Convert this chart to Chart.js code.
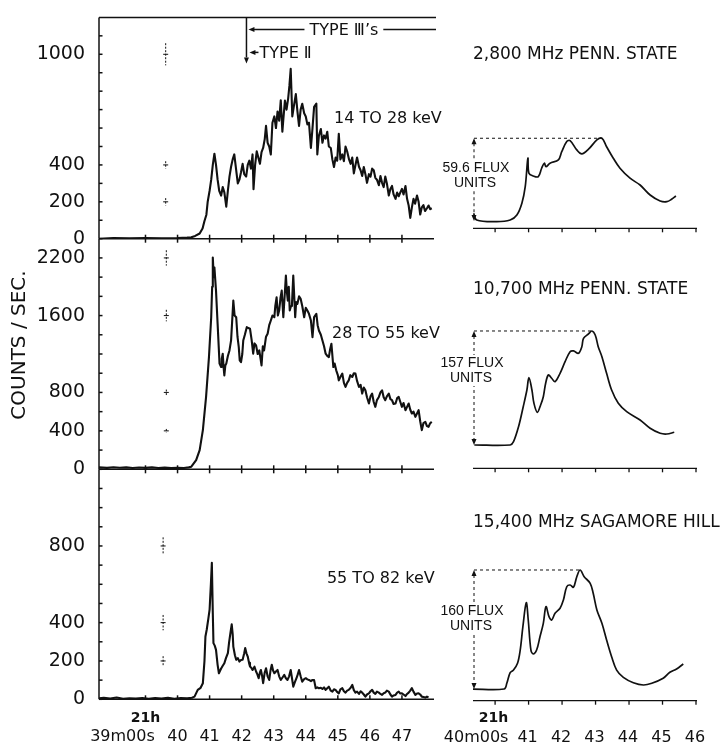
<!DOCTYPE html>
<html>
<head>
<meta charset="utf-8">
<script src="https://cdn.jsdelivr.net/npm/chart.js@4.4.0/dist/chart.umd.min.js"></script>
<style>
html, body { margin: 0; padding: 0; background: #fff; }
#wrap { position: relative; width: 726px; height: 746px; overflow: hidden; }
#wrap canvas { position: absolute; left: 0; top: 0; }
</style>
</head>
<body>
<div id="wrap">
  <canvas id="p1" width="726" height="746"></canvas>
  <canvas id="p2" width="726" height="746"></canvas>
  <canvas id="p3" width="726" height="746"></canvas>
  <canvas id="r1" width="726" height="746"></canvas>
  <canvas id="r2" width="726" height="746"></canvas>
  <canvas id="r3" width="726" height="746"></canvas>
</div>
<script>
// ---- data (time in minutes after 21h) ----
const leftMinutes = [39, 40, 41, 42, 43, 44, 45, 46, 47];
const leftMinuteLabels = ['39m00s', '40', '41', '42', '43', '44', '45', '46', '47'];
const rightMinutes = [40, 41, 42, 43, 44, 45, 46];
const rightMinuteLabels = ['40m00s', '41', '42', '43', '44', '45', '46'];
const hourLabel = '21h';

// 14 to 28 keV
const xr1Time = [37.55, 38.0, 38.5, 39.0, 39.5, 40.0, 40.3, 40.43, 40.55, 40.69, 40.78, 40.84, 40.9, 40.94, 41.0, 41.05, 41.1, 41.15, 41.2, 41.25,
  41.3, 41.36, 41.41, 41.46, 41.52, 41.57, 41.62, 41.67, 41.72, 41.77, 41.83, 41.88, 41.93, 41.98, 42.03, 42.08, 42.14, 42.19, 42.24, 42.29,
  42.34, 42.37, 42.42, 42.47, 42.52, 42.57, 42.62, 42.67, 42.72, 42.76, 42.81, 42.86, 42.91, 42.96, 43.02, 43.07, 43.12, 43.17, 43.22, 43.27,
  43.3, 43.35, 43.4, 43.45, 43.49, 43.53, 43.58, 43.63, 43.69, 43.74, 43.79, 43.84, 43.89, 43.95, 44.0, 44.05, 44.1, 44.16, 44.21, 44.26,
  44.33, 44.36, 44.41, 44.47, 44.52, 44.57, 44.62, 44.67, 44.72, 44.78, 44.83, 44.88, 44.93, 44.98, 45.03, 45.08, 45.14, 45.19, 45.24, 45.29,
  45.35, 45.4, 45.45, 45.5, 45.55, 45.6, 45.66, 45.71, 45.76, 45.81, 45.86, 45.91, 45.97, 46.02, 46.07, 46.12, 46.17, 46.22, 46.28, 46.33,
  46.38, 46.43, 46.48, 46.53, 46.59, 46.64, 46.69, 46.74, 46.8, 46.85, 46.9, 46.95, 47.0, 47.05, 47.11, 47.16, 47.21, 47.26, 47.31, 47.36,
  47.41, 47.47, 47.52, 47.57, 47.62, 47.67, 47.72, 47.78, 47.83, 47.88, 47.93];
const xr1Counts = [0, 3, 2, 4, 2, 3, 6, 8, 15, 28, 55, 96, 130, 200, 260, 320, 400, 461, 400, 320,
  260, 234, 280, 251, 174, 260, 337, 390, 430, 457, 371, 300, 320, 360, 406, 350, 337, 400, 423, 380,
  457, 268, 400, 474, 440, 406, 470, 492, 540, 612, 520, 500, 457, 629, 663, 600, 690, 640, 750, 580,
  647, 749, 700, 760, 830, 921, 663, 720, 784, 690, 612, 700, 732, 680, 663, 620, 629, 492, 600, 715,
  732, 457, 560, 595, 520, 560, 543, 580, 500, 492, 430, 389, 440, 423, 569, 430, 457, 420, 500, 474,
  430, 406, 440, 354, 400, 440, 390, 371, 340, 389, 350, 303, 350, 337, 380, 371, 330, 320, 290, 340,
  303, 280, 337, 300, 234, 270, 286, 240, 216, 250, 230, 251, 270, 240, 286, 216, 180, 113, 170, 216,
  190, 234, 200, 131, 170, 182, 150, 165, 180, 160, 165];

// 28 to 55 keV
const xr2Time = [37.55, 37.8, 38.0, 38.2, 38.4, 38.6, 38.8, 39.0, 39.2, 39.4, 39.6, 39.8, 40.0, 40.2, 40.35, 40.43, 40.58, 40.69, 40.79, 40.89,
  40.98, 41.05, 41.08, 41.1, 41.13, 41.15, 41.2, 41.25, 41.31, 41.36, 41.38, 41.41, 41.44, 41.46, 41.49, 41.52, 41.57, 41.62, 41.67, 41.74,
  41.78, 41.83, 41.87, 41.91, 41.94, 41.98, 42.02, 42.05, 42.1, 42.16, 42.21, 42.26, 42.31, 42.36, 42.4, 42.45, 42.5, 42.55, 42.59, 42.62,
  42.66, 42.7, 42.76, 42.81, 42.86, 42.91, 42.96, 43.02, 43.05, 43.09, 43.13, 43.17, 43.21, 43.25, 43.3, 43.34, 43.38, 43.41, 43.44, 43.47,
  43.5, 43.54, 43.57, 43.61, 43.64, 43.67, 43.7, 43.74, 43.79, 43.84, 43.89, 43.95, 44.0, 44.05, 44.1, 44.16, 44.21, 44.26, 44.33, 44.37,
  44.41, 44.47, 44.52, 44.57, 44.62, 44.67, 44.72, 44.76, 44.8, 44.86, 44.9, 44.95, 45.0, 45.03, 45.08, 45.14, 45.19, 45.24, 45.29, 45.34,
  45.39, 45.45, 45.5, 45.55, 45.6, 45.66, 45.71, 45.76, 45.81, 45.86, 45.91, 45.97, 46.02, 46.07, 46.12, 46.17, 46.22, 46.28, 46.33, 46.38,
  46.43, 46.48, 46.53, 46.59, 46.64, 46.69, 46.74, 46.8, 46.85, 46.9, 46.95, 47.0, 47.05, 47.11, 47.16, 47.21, 47.26, 47.31, 47.36, 47.42,
  47.47, 47.52, 47.57, 47.62, 47.67, 47.73, 47.78, 47.83, 47.88, 47.93];
const xr2Counts = [20, 15, 22, 16, 20, 14, 18, 15, 20, 13, 17, 12, 16, 14, 20, 27, 96, 200, 408, 753,
  1168, 1583, 1900, 2205, 2000, 2101, 1860, 1514, 1100, 1064, 1150, 1203, 1050, 978, 1080, 1100, 1180, 1237, 1341, 1756,
  1600, 1583, 1380, 1272, 1134, 1116, 1200, 1341, 1400, 1479, 1470, 1463, 1350, 1203, 1310, 1290, 1200, 1237, 1150, 1082,
  1280, 1237, 1380, 1411, 1500, 1549, 1600, 1583, 1700, 1790, 1600, 1652, 1780, 1860, 1583, 1800, 2016, 1850, 1756, 1900,
  1652, 1700, 1720, 2016, 1800, 1583, 1740, 1722, 1800, 1774, 1700, 1583, 1680, 1652, 1618, 1549, 1376, 1583, 1618, 1500,
  1445, 1400, 1341, 1280, 1203, 1180, 1168, 1250, 1307, 1064, 1100, 1030, 980, 926, 960, 996, 900, 857, 900, 926,
  980, 961, 1000, 996, 920, 857, 880, 788, 850, 822, 750, 685, 760, 788, 700, 650, 720, 753, 800, 822,
  750, 719, 760, 788, 730, 719, 680, 685, 740, 753, 700, 650, 690, 615, 650, 685, 620, 581, 600, 546,
  580, 615, 500, 408, 480, 494, 450, 442, 480, 494];

// 55 to 82 keV
const xr3Time = [37.55, 37.7, 37.9, 38.1, 38.3, 38.5, 38.7, 38.9, 39.1, 39.3, 39.5, 39.7, 39.9, 40.1, 40.3, 40.45, 40.53, 40.63, 40.72, 40.79,
  40.84, 40.87, 40.91, 40.96, 41.0, 41.04, 41.07, 41.1, 41.12, 41.16, 41.2, 41.25, 41.29, 41.33, 41.36, 41.41, 41.46, 41.51, 41.57, 41.61,
  41.65, 41.69, 41.72, 41.74, 41.79, 41.83, 41.88, 41.93, 41.98, 42.03, 42.08, 42.11, 42.15, 42.19, 42.23, 42.26, 42.3, 42.34, 42.4, 42.45,
  42.49, 42.53, 42.57, 42.6, 42.64, 42.67, 42.72, 42.76, 42.81, 42.86, 42.9, 42.94, 42.98, 43.02, 43.07, 43.12, 43.17, 43.22, 43.28, 43.33,
  43.38, 43.43, 43.48, 43.53, 43.57, 43.61, 43.66, 43.71, 43.75, 43.79, 43.84, 43.89, 43.95, 44.0, 44.05, 44.1, 44.16, 44.21, 44.26, 44.31,
  44.36, 44.41, 44.47, 44.52, 44.57, 44.62, 44.67, 44.72, 44.78, 44.83, 44.88, 44.93, 44.98, 45.03, 45.08, 45.14, 45.19, 45.24, 45.29, 45.34,
  45.4, 45.45, 45.5, 45.55, 45.6, 45.66, 45.71, 45.76, 45.81, 45.86, 45.91, 45.97, 46.02, 46.07, 46.12, 46.17, 46.22, 46.28, 46.33, 46.38,
  46.43, 46.48, 46.53, 46.59, 46.64, 46.69, 46.74, 46.8, 46.85, 46.9, 46.95, 47.0, 47.05, 47.11, 47.16, 47.21, 47.26, 47.31, 47.36, 47.42,
  47.47, 47.52, 47.57, 47.62, 47.67, 47.73, 47.78, 47.83];
const xr3Counts = [5, 8, 4, 9, 3, 5, 4, 7, 3, 6, 4, 8, 3, 6, 5, 8, 14, 49, 60, 84,
  200, 328, 363, 420, 468, 600, 712, 450, 293, 280, 258, 180, 136, 150, 161, 175, 188, 215, 241, 300,
  346, 391, 340, 275, 230, 206, 215, 197, 205, 206, 240, 267, 240, 223, 190, 171, 165, 153, 170, 145,
  130, 110, 140, 153, 120, 84, 140, 162, 120, 101, 150, 180, 150, 136, 145, 153, 120, 101, 115, 127,
  110, 101, 120, 153, 110, 66, 90, 110, 130, 153, 120, 92, 105, 110, 104, 101, 95, 101, 100, 58,
  62, 58, 60, 54, 62, 49, 58, 66, 45, 40, 52, 49, 38, 31, 52, 58, 42, 35, 45, 49,
  60, 75, 48, 35, 40, 28, 42, 35, 25, 14, 25, 31, 42, 49, 35, 28, 40, 35, 28, 23,
  32, 35, 45, 40, 25, 14, 20, 23, 35, 40, 30, 31, 25, 17, 28, 35, 45, 58, 40, 23,
  30, 31, 25, 14, 12, 9, 14, 10];

// calibration points with error bars
const cal1Time = 39.63, cal1Counts = [1000, 400, 200], cal1Err = [60, 20, 20];
const cal2Time = 39.65, cal2Counts = [2200, 1600, 800, 400], cal2Err = [80, 60, 30, 20];
const cal3Time = 39.55, cal3Counts = [800, 400, 200], cal3Err = [45, 40, 25];

const xr1YLabels = [0, 200, 400, 1000];
const xr2YLabels = [0, 400, 800, 1600, 2200];
const xr3YLabels = [0, 200, 400, 800];

// radio, flux units above pre-flare level
const rad1Time = [39.36, 39.45, 40.05, 40.45, 40.65, 40.8, 40.9, 40.98, 41.01, 41.14, 41.29, 41.39, 41.47, 41.52, 41.64, 41.89, 41.99, 42.14, 42.24, 42.44,
  42.59, 42.79, 43.04, 43.19, 43.33, 43.53, 43.73, 44.03, 44.33, 44.63, 44.93, 45.13, 45.27, 45.4];
const rad1Flux = [5.5, 0.7, -0.5, 0.7, 4.3, 12.8, 24.7, 45.2, 34.4, 32.4, 31.9, 38.0, 41.6, 39.1, 41.6, 44.0, 49.9, 57.2, 57.9, 51.2,
  48.3, 51.7, 58.4, 59.6, 53.5, 45.2, 38.0, 30.8, 25.9, 18.7, 14.4, 13.9, 15.6, 18.0];
const rad2Time = [39.38, 40.45, 40.55, 40.7, 40.84, 40.95, 41.01, 41.1, 41.16, 41.26, 41.36, 41.44, 41.51, 41.59, 41.69, 41.79, 41.94, 42.09, 42.24, 42.34,
  42.49, 42.59, 42.64, 42.79, 42.89, 42.99, 43.08, 43.19, 43.33, 43.48, 43.68, 43.93, 44.33, 44.63, 44.93, 45.13, 45.35];
const rad2Flux = [0, 0, 4.5, 25.2, 52.7, 75.7, 92.7, 75.7, 57.4, 45.0, 55.1, 66.5, 85.0, 96.4, 91.9, 87.2, 98.7, 114.7, 128.5, 129.5,
  126.3, 135.4, 146.9, 152.9, 157, 151.5, 135.4, 121.6, 98.7, 75.7, 57.4, 45.9, 34.4, 23.0, 16.1, 15.1, 17.5];
const rad3Time = [39.3, 40.27, 40.35, 40.45, 40.55, 40.67, 40.75, 40.83, 40.93, 40.99, 41.07, 41.14, 41.24, 41.34, 41.44, 41.52, 41.61, 41.69, 41.79, 41.94,
  42.04, 42.14, 42.24, 42.34, 42.44, 42.54, 42.66, 42.84, 42.93, 43.04, 43.19, 43.33, 43.48, 43.63, 43.83, 44.13, 44.43, 44.68, 45.02, 45.22,
  45.42, 45.62];
const rad3Flux = [0, 0, 7.7, 21.9, 25.5, 34.6, 52.4, 83.8, 116.0, 92.8, 52.4, 47.1, 52.4, 70.3, 88.3, 110.7, 97.2, 92.8, 101.8, 108.5,
  119.7, 137.5, 139.8, 136.7, 151.0, 160, 151.0, 142.1, 128.7, 106.2, 88.3, 65.9, 43.4, 25.5, 15.7, 8.5, 5.4, 7.7, 14.4, 22.5,
  26.9, 33.6];

const FONT = '"DejaVu Sans", sans-serif';
const INK = '#111';
Chart.defaults.font.family = FONT;
Chart.defaults.color = INK;

function seg(ctx, x1, y1, x2, y2) {
  ctx.beginPath(); ctx.moveTo(x1, y1); ctx.lineTo(x2, y2); ctx.stroke();
}
function head(ctx, x, y, dx, dy) {
  // little filled arrowhead with its tip at x,y pointing along dx,dy
  const px = -dy, py = dx;
  ctx.beginPath();
  ctx.moveTo(x, y);
  ctx.lineTo(x - dx * 6 + px * 2.5, y - dy * 6 + py * 2.5);
  ctx.lineTo(x - dx * 6 - px * 2.5, y - dy * 6 - py * 2.5);
  ctx.closePath(); ctx.fill();
}
function text(ctx, s, x, y, font, align) {
  ctx.font = font; ctx.textAlign = align || 'left'; ctx.textBaseline = 'middle';
  ctx.fillText(s, x, y);
}
function boxedText(ctx, s, x, y, font) {
  ctx.font = font;
  const w = ctx.measureText(s).width;
  ctx.fillStyle = '#fff'; ctx.fillRect(x - w / 2 - 1, y - 8, w + 2, 16);
  ctx.fillStyle = INK;
  text(ctx, s, x, y, font, 'center');
}

function curve(t, v, w) {
  return { data: t.map((x, i) => ({ x: x, y: v[i] })), borderColor: INK, borderWidth: w,
           pointRadius: 0, fill: false, tension: 0, borderJoinStyle: 'round' };
}

function leftDeco(cfg) {
  return {
    id: 'deco',
    afterDatasetsDraw(chart) {
      const ctx = chart.ctx, a = chart.chartArea, xs = chart.scales.x, ys = chart.scales.y;
      ctx.save();
      ctx.strokeStyle = INK; ctx.fillStyle = INK; ctx.lineWidth = 1.5;
      seg(ctx, a.left, a.top, a.left, a.bottom);
      seg(ctx, a.left, a.bottom, a.right, a.bottom);
      ys.ticks.forEach(t => {
        if (t.value >= cfg.max) return;
        const y = ys.getPixelForValue(t.value);
        seg(ctx, a.left, y, a.left + 3.5, y);
      });
      leftMinutes.forEach(m => {
        const x = xs.getPixelForValue(m);
        seg(ctx, x, a.bottom - 4, x, a.bottom + (cfg.last ? 0 : 4));
      });
      // calibration bars
      ctx.lineWidth = 1;
      const xc = xs.getPixelForValue(cfg.calTime);
      cfg.calCounts.forEach((v, i) => {
        ctx.setLineDash([2, 1.5]);
        seg(ctx, xc, ys.getPixelForValue(v + cfg.calErr[i]), xc, ys.getPixelForValue(v - cfg.calErr[i]));
        ctx.setLineDash([]);
        const y = ys.getPixelForValue(v);
        seg(ctx, xc - 2.5, y, xc + 2.5, y);
      });
      text(ctx, cfg.band, xs.getPixelForValue(cfg.bandAt[0]), ys.getPixelForValue(cfg.bandAt[1]), '16px ' + FONT);

      if (cfg.first) {
        ctx.lineWidth = 1.5;
        seg(ctx, a.left, a.top, a.right + 2, a.top);
        const xe = xs.getPixelForValue(typeEventTime);
        seg(ctx, xe, a.top, xe, a.top + 40);
        head(ctx, xe, a.top + 46, 0, 1);
        const y3 = a.top + 12;
        head(ctx, xe + 2, y3, -1, 0);
        seg(ctx, xe + 7, y3, xe + 58, y3);
        ctx.font = '16px ' + FONT;
        const w3 = ctx.measureText(typeIIILabel).width;
        text(ctx, typeIIILabel, xe + 63, y3 + 1, '16px ' + FONT);
        seg(ctx, xe + 68 + w3, y3, a.right + 2, y3);
        const y2 = a.top + 35;
        head(ctx, xe + 3, y2, -1, 0);
        seg(ctx, xe + 8, y2, xe + 12, y2);
        text(ctx, typeIILabel, xe + 13, y2 + 1, '16px ' + FONT);
      }
      if (cfg.axisTitle) {
        ctx.save();
        ctx.translate(20, 345); ctx.rotate(-Math.PI / 2);
        text(ctx, cfg.axisTitle, 0, 0, '20px ' + FONT, 'center');
        ctx.restore();
      }
      if (cfg.last) {
        leftMinutes.forEach((m, i) => {
          const x = xs.getPixelForValue(m);
          text(ctx, leftMinuteLabels[i], x + (i === 0 ? -23 : 0), 737, '16px ' + FONT, 'center');
        });
        text(ctx, hourLabel, xs.getPixelForValue(39), 718, 'bold 14px ' + FONT, 'center');
      }
      ctx.restore();
    }
  };
}

const typeEventTime = 42.15;
const typeIIILabel = 'TYPE \u2162\u2019s';
const typeIILabel = 'TYPE \u2161';

function leftPanel(id, cfg) {
  return new Chart(document.getElementById(id), {
    type: 'line',
    data: { datasets: [curve(cfg.time, cfg.counts, 2.1)] },
    options: {
      responsive: false, animation: false, events: [],
      layout: { padding: { left: 0, right: 726 - 434, top: cfg.top, bottom: 746 - cfg.bottom } },
      plugins: { legend: { display: false }, tooltip: { enabled: false } },
      scales: {
        x: { type: 'linear', min: 37.55, max: 48, display: false },
        y: {
          type: 'linear', min: 0, max: cfg.max,
          afterFit: s => { s.width = 99; },
          grid: { display: false }, border: { display: false },
          ticks: { stepSize: cfg.step, autoSkip: false, padding: 6, color: INK,
                   font: { family: FONT, size: 19 },
                   callback: v => cfg.yLabels.includes(v) ? String(v) : '' }
        }
      }
    },
    plugins: [leftDeco(cfg)]
  });
}

leftPanel('p1', { time: xr1Time, counts: xr1Counts, max: 1200, step: 100, yLabels: xr1YLabels, top: 7, bottom: 238.7,
  calTime: cal1Time, calCounts: cal1Counts, calErr: cal1Err, band: '14 TO 28 keV', bandAt: [44.88, 650], first: true });
leftPanel('p2', { time: xr2Time, counts: xr2Counts, max: 2400, step: 200, yLabels: xr2YLabels, top: 238.7, bottom: 469.3,
  calTime: cal2Time, calCounts: cal2Counts, calErr: cal2Err, band: '28 TO 55 keV', bandAt: [44.82, 1408], axisTitle: 'COUNTS / SEC.' });
leftPanel('p3', { time: xr3Time, counts: xr3Counts, max: 1200, step: 100, yLabels: xr3YLabels, top: 469.3, bottom: 699.3,
  calTime: cal3Time, calCounts: cal3Counts, calErr: cal3Err, band: '55 TO 82 keV', bandAt: [44.66, 631], last: true });

function rightDeco(cfg) {
  return {
    id: 'rdeco',
    afterDatasetsDraw(chart) {
      const ctx = chart.ctx, a = chart.chartArea, xs = chart.scales.x, ys = chart.scales.y;
      ctx.save();
      ctx.strokeStyle = INK; ctx.fillStyle = INK; ctx.lineWidth = 1.3;
      seg(ctx, a.left, a.bottom, a.right, a.bottom);
      rightMinutes.forEach(m => {
        const x = xs.getPixelForValue(m);
        seg(ctx, x, a.bottom, x, a.bottom + 4);
      });
      const xc = xs.getPixelForValue(39.37);
      const y0 = ys.getPixelForValue(0), yTop = ys.getPixelForValue(cfg.fluxTop);
      ctx.lineWidth = 1;
      ctx.setLineDash([3, 3]);
      seg(ctx, xc, yTop + 5, xc, y0 - 5);
      seg(ctx, xc, yTop, xs.getPixelForValue(cfg.peakTime), yTop);
      ctx.setLineDash([]);
      head(ctx, xc, yTop, 0, -1);
      head(ctx, xc, y0, 0, 1);
      boxedText(ctx, cfg.fluxLabel, cfg.fluxAt[0], cfg.fluxAt[1], '14px "Liberation Sans", sans-serif');
      boxedText(ctx, 'UNITS', cfg.fluxAt[0] - 1, cfg.fluxAt[1] + 15, '14px "Liberation Sans", sans-serif');
      text(ctx, cfg.title, a.left, cfg.titleY, '17px ' + FONT);
      if (cfg.last) {
        rightMinutes.forEach((m, i) => {
          const x = xs.getPixelForValue(m);
          text(ctx, rightMinuteLabels[i], x + (i === 0 ? -19 : -1), 737.5, '16px ' + FONT, 'center');
        });
        text(ctx, hourLabel, xs.getPixelForValue(40) - 1.5, 718, 'bold 14px ' + FONT, 'center');
      }
      ctx.restore();
    }
  };
}

function rightPanel(id, cfg) {
  return new Chart(document.getElementById(id), {
    type: 'line',
    data: { datasets: [Object.assign(curve(cfg.time, cfg.flux, 1.7), { tension: 0.35 })] },
    options: {
      responsive: false, animation: false, events: [],
      layout: { padding: { left: 473, right: 726 - 697, top: cfg.top, bottom: 746 - cfg.bottom } },
      plugins: { legend: { display: false }, tooltip: { enabled: false } },
      scales: {
        x: { type: 'linear', min: 39.34, max: 46.03, display: false },
        y: { type: 'linear', min: cfg.yMin, max: cfg.yMax, display: false }
      }
    },
    plugins: [rightDeco(cfg)]
  });
}

rightPanel('r1', { time: rad1Time, flux: rad1Flux, top: 7, bottom: 228.3, yMin: -5.3, yMax: 154.2,
  fluxTop: 59.6, peakTime: 43.19, fluxLabel: '59.6 FLUX', fluxAt: [476, 168], title: '2,800 MHz PENN. STATE', titleY: 55 });
rightPanel('r2', { time: rad2Time, flux: rad2Flux, top: 240, bottom: 468.3, yMin: -32.1, yMax: 282.3,
  fluxTop: 157, peakTime: 42.89, fluxLabel: '157 FLUX', fluxAt: [472, 363], title: '10,700 MHz PENN. STATE', titleY: 290 });
rightPanel('r3', { time: rad3Time, flux: rad3Flux, top: 470, bottom: 700.7, yMin: -15.7, yMax: 294.4,
  fluxTop: 160, peakTime: 42.59, fluxLabel: '160 FLUX', fluxAt: [472, 611], title: '15,400 MHz SAGAMORE HILL', titleY: 523, last: true });
</script>
</body>
</html>
